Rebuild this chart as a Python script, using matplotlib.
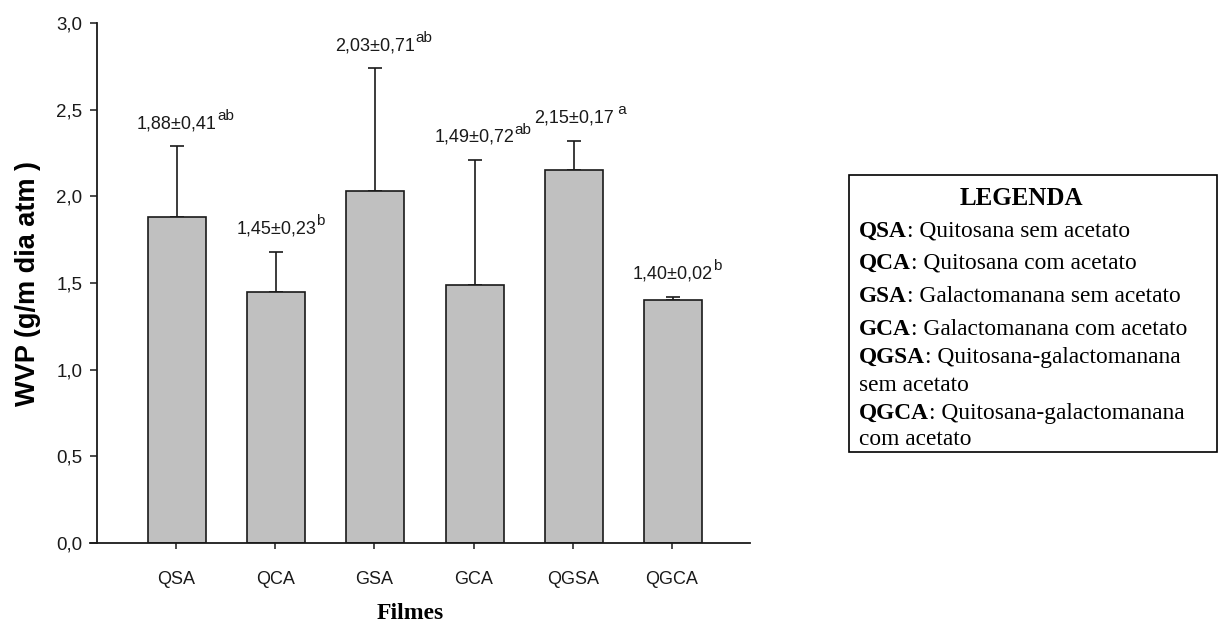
import matplotlib
matplotlib.use("Agg")
import matplotlib.pyplot as plt
import numpy as np
from matplotlib.patches import Rectangle

plt.rcParams['font.family'] = ['Liberation Sans', 'DejaVu Sans']

# dados (WVP media e desvio padrao)
filmes = ["QSA", "QCA", "GSA", "GCA", "QGSA", "QGCA"]
wvp = [1.88, 1.45, 2.03, 1.49, 2.15, 1.40]
dp = [0.41, 0.23, 0.71, 0.72, 0.17, 0.02]
letras = ["ab", "b", "ab", "ab", " a", "b"]
yticks = [0.0, 0.5, 1.0, 1.5, 2.0, 2.5, 3.0]

legenda_cod = ["QSA", "QCA", "GSA", "GCA", "QGSA", "QGCA"]
legenda_txt = ["Quitosana sem acetato",
               "Quitosana com acetato",
               "Galactomanana sem acetato",
               "Galactomanana com acetato",
               "Quitosana-galactomanana\nsem acetato",
               "Quitosana-galactomanana\ncom acetato"]

W, H = 1219, 631
fig = plt.figure(figsize=(W / 100, H / 100), dpi=100)
ax = fig.add_axes([90 / W, (H - 543) / H, 660 / W, 520 / H])

x = np.arange(len(filmes)) + 0.01
ax.bar(x, wvp, width=0.585, color="#c0c0c0", edgecolor="#1a1a1a", linewidth=1.2, zorder=2)
ax.errorbar(x, wvp, yerr=[np.zeros(len(dp)), dp], fmt="none", ecolor="#1a1a1a",
            elinewidth=1.2, capsize=4.7, capthick=1.2, zorder=1)

for xi, m, e, l in zip(x, wvp, dp, letras):
    t = ax.annotate(f"{m:.2f}±{e:.2f}".replace(".", ","), xy=(xi, m + e), xytext=(0, 13),
                    textcoords="offset points", ha="center", va="baseline", fontsize=13,
                    color="#1a1a1a")
    ax.annotate(l, xy=(1, 0.55), xycoords=t, ha="left", va="bottom", fontsize=11,
                color="#1a1a1a")

ax.set_xlim(-0.867, 5.786)
ax.set_ylim(0, 3)
ax.spines["top"].set_visible(False)
ax.spines["right"].set_visible(False)
ax.spines["left"].set_position(("data", -0.796))
for s in ["left", "bottom"]:
    ax.spines[s].set_linewidth(1.3)
    ax.spines[s].set_color("#1a1a1a")

ax.set_xticks(np.arange(len(filmes)))
ax.set_xticklabels(filmes)
ax.set_yticks(yticks)
ax.set_yticklabels([f"{v:.1f}".replace(".", ",") for v in yticks])
ax.tick_params(axis="y", direction="out", length=5, width=1.1, pad=5.5, labelsize=13.5,
               colors="#1a1a1a")
ax.tick_params(axis="x", direction="out", length=4.3, width=1.1, pad=16, labelsize=13,
               colors="#1a1a1a")

ax.set_ylabel("WVP (g/m dia atm )", fontsize=19.5, fontweight="bold")
ax.yaxis.set_label_coords(-0.074, 0.5)
ax.set_xlabel("Filmes", fontsize=17, fontweight="bold", family="Liberation Serif")
ax.xaxis.set_label_coords(0.485, -0.115)

# caixa de legenda
fig.add_artist(Rectangle((849 / W, (H - 452) / H), 368 / W, 277 / H,
                         transform=fig.transFigure, fill=False, ec="black", lw=1.2))
fig.text(1021 / W, (H - 205) / H, "LEGENDA", ha="center", va="baseline", fontsize=18,
         fontweight="bold", family="Liberation Serif")

baselines = [237, 269, 302, 335, 363, 391, 419, 445]
k = 0
for cod, txt in zip(legenda_cod, legenda_txt):
    linhas = txt.split("\n")
    b = fig.text(859 / W, (H - baselines[k]) / H, cod, ha="left", va="baseline",
                 fontsize=16.8, fontweight="bold", family="Liberation Serif")
    ax.annotate(": " + linhas[0], xy=(1, 0), xycoords=b, ha="left", va="bottom",
                fontsize=16.8, family="Liberation Serif")
    k += 1
    for resto in linhas[1:]:
        fig.text(859 / W, (H - baselines[k]) / H, resto, ha="left", va="baseline",
                 fontsize=16.8, family="Liberation Serif")
        k += 1

fig.savefig("out.png", dpi=100)
